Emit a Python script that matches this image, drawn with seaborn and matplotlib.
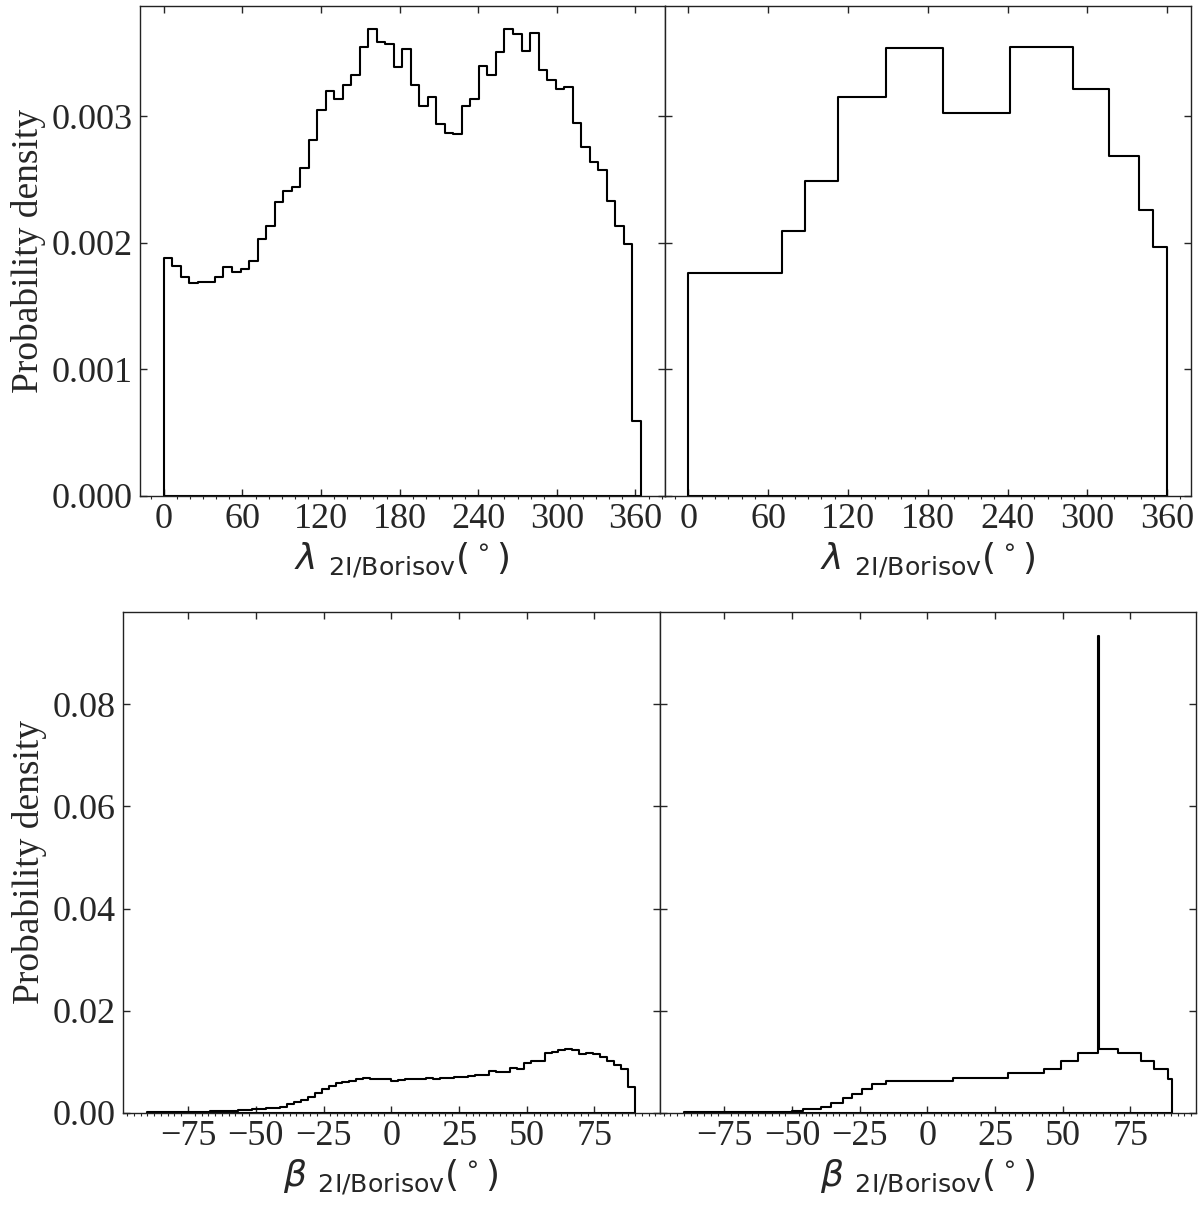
import numpy as np
import pandas as pd
import matplotlib
matplotlib.use('Agg')
import matplotlib.pyplot as plt
from matplotlib.ticker import MultipleLocator
import seaborn as sns

# ==========================================
# data (probability density per bin)
# ==========================================
# lambda, fixed 6.5 deg bins from 0
lam_bin_width = 6.5
lam_density = [
    0.00188, 0.00182, 0.00173, 0.00168, 0.00169, 0.00169, 0.00173, 0.00181,
    0.00177, 0.00179, 0.00186, 0.00203, 0.00213, 0.00232, 0.00241, 0.00244,
    0.00259, 0.00281, 0.00305, 0.00320, 0.00314, 0.00325, 0.00333, 0.00355,
    0.00369, 0.00359, 0.00357, 0.00339, 0.00353, 0.00325, 0.00308, 0.00315,
    0.00294, 0.00287, 0.00286, 0.00308, 0.00314, 0.00340, 0.00333, 0.00351,
    0.00369, 0.00365, 0.00352, 0.00366, 0.00337, 0.00329, 0.00322, 0.00323,
    0.00295, 0.00276, 0.00264, 0.00258, 0.00233, 0.00213, 0.00199, 0.00059,
]
# lambda, variable-width blocks
lam_block_edges = [0, 70.3, 87.7, 112.6, 148.6, 191.7, 242.0, 289.0, 316.0,
                   338.5, 349.7, 360]
lam_block_density = [0.00176, 0.00209, 0.00249, 0.00315, 0.00354, 0.00303,
                     0.00355, 0.00322, 0.00269, 0.00226, 0.00197]

# beta, 70 fixed bins over -90..90
beta_range = (-90, 90)
beta_density = [
    0.00005, 0.00005, 0.00008, 0.0001, 0.0001, 0.00012, 0.00015, 0.00018,
    0.0002, 0.00025, 0.0003, 0.00035, 0.0004, 0.0005, 0.0006, 0.0007,
    0.0008, 0.0009, 0.0010, 0.0012, 0.0016, 0.0020, 0.0025, 0.0031,
    0.0038, 0.0046, 0.0052, 0.0059, 0.0061, 0.0063, 0.0065, 0.0068,
    0.0066, 0.0065, 0.0065, 0.0063, 0.0064, 0.0065, 0.0066, 0.0066,
    0.0068, 0.0066, 0.0068, 0.0068, 0.0069, 0.0070, 0.0071, 0.0073,
    0.0074, 0.0082, 0.0079, 0.0079, 0.0087, 0.0085, 0.0098, 0.0102,
    0.0102, 0.0117, 0.0118, 0.0123, 0.0124, 0.0123, 0.0114, 0.0117,
    0.0115, 0.0110, 0.0102, 0.0094, 0.0086, 0.0051,
]
# beta, variable-width blocks (with the narrow spike near 63 deg)
beta_block_edges = [-90, -59.1, -50.0, -46.1, -39.5, -35.6, -31.1, -27.7, -24.2,
                    -20.3, -15.3, 9.3, 29.9, 43.0, 49.3, 55.7, 63.25, 63.3,
                    70.5, 79.1, 83.9, 89.0, 90.3]
beta_block_density = [0.00007, 0.0002, 0.0004, 0.00065, 0.0012, 0.0019, 0.0028,
                      0.0037, 0.0047, 0.0056, 0.0063, 0.0067, 0.0077, 0.0086,
                      0.0101, 0.0117, 0.0935, 0.0124, 0.0116, 0.0102, 0.0086,
                      0.0066]

# ==========================================
# style
# ==========================================
sns.set_style('ticks')
plt.rcParams['font.family'] = ['Liberation Serif', 'DejaVu Serif']
plt.rcParams['mathtext.fontset'] = 'dejavusans'
plt.rcParams['axes.linewidth'] = 1.0
plt.rcParams['axes.edgecolor'] = '#222222'


def draw_hist(ax, edges, heights):
    edges = [float(e) for e in edges]
    centers = [(a + b) / 2 for a, b in zip(edges[:-1], edges[1:])]
    df = pd.DataFrame({'angle': centers, 'density': heights})
    # bins passed as a plain list (seaborn compares bins to "auto")
    sns.histplot(data=df, x='angle', weights='density', bins=edges, stat='count',
                 element='step', fill=True, color='black', facecolor='none',
                 edgecolor='black', linewidth=1.5, ax=ax)


def style_axes(ax, major, minor, tick_size, show_left=True):
    ax.xaxis.set_major_locator(MultipleLocator(major))
    ax.xaxis.set_minor_locator(MultipleLocator(minor))
    ax.tick_params(which='major', direction='in', top=True, right=True,
                   length=5, width=1.0, labelsize=tick_size, pad=5,
                   labelleft=show_left)
    ax.tick_params(axis='x', which='minor', direction='out', bottom=True,
                   top=False, length=2.5, width=0.8)
    ax.tick_params(axis='y', which='minor', left=False, right=False)


fig = plt.figure(figsize=(12, 12.06), dpi=100)

# top row: lambda
ax1 = fig.add_axes([0.1167, 0.5890, 0.4371, 0.4061])
ax2 = fig.add_axes([0.5538, 0.5890, 0.4388, 0.4061], sharey=ax1)
# bottom row: beta
ax3 = fig.add_axes([0.1025, 0.0774, 0.4471, 0.4154])
ax4 = fig.add_axes([0.5496, 0.0774, 0.4471, 0.4154], sharey=ax3)

lam_edges = np.arange(len(lam_density) + 1) * lam_bin_width
beta_edges = np.linspace(beta_range[0], beta_range[1], len(beta_density) + 1)

draw_hist(ax1, lam_edges, lam_density)
draw_hist(ax2, lam_block_edges, lam_block_density)
draw_hist(ax3, beta_edges, beta_density)
draw_hist(ax4, beta_block_edges, beta_block_density)

lam_label = r'$\lambda$ $_{\rm 2I/Borisov}$($^\circ$)'
beta_label = r'$\beta$ $_{\rm 2I/Borisov}$($^\circ$)'

for ax in (ax1, ax2):
    style_axes(ax, 60, 10, 26, show_left=(ax is ax1))
    ax.set_xlabel(lam_label, fontfamily='DejaVu Sans', fontsize=26)
for ax in (ax3, ax4):
    style_axes(ax, 25, 2.5, 26, show_left=(ax is ax3))
    ax.set_xlabel(beta_label, fontfamily='DejaVu Sans', fontsize=26)

ax1.set_ylabel('Probability density', fontsize=27)
ax3.set_ylabel('Probability density', fontsize=27)
ax2.set_ylabel('')
ax4.set_ylabel('')

fig.savefig('out.png', dpi=100)
